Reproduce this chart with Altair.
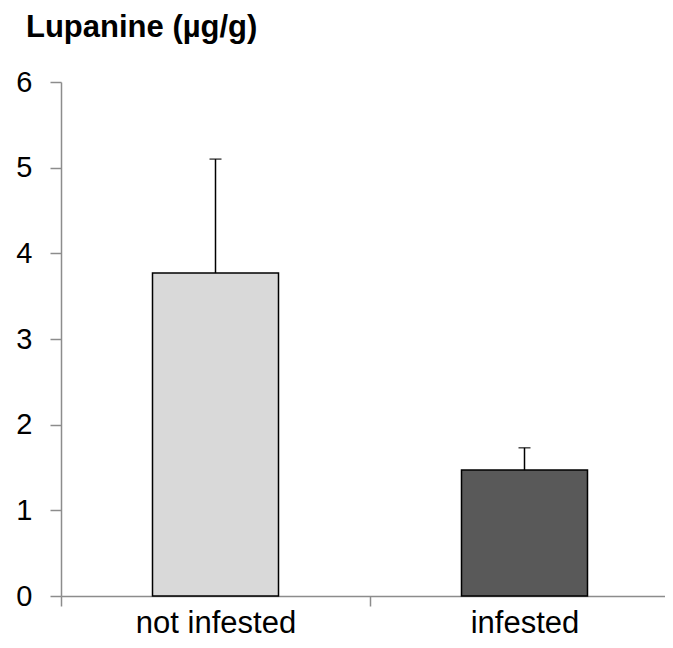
import altair as alt
import pandas as pd

categories = ["not infested", "infested"]
means = [3.77, 1.47]
errors = [1.33, 0.26]
colors = ["#d9d9d9", "#595959"]
title_text = "Lupanine (µg/g)"

df = pd.DataFrame({
    "group": categories,
    "mean": means,
    "upper": [m + e for m, e in zip(means, errors)],
    "color": colors,
})

FONT = "Liberation Sans"

x_enc = alt.X(
    "group:N",
    sort=categories,
    title=None,
    scale=alt.Scale(range=[0, 618], paddingInner=0, paddingOuter=0),
    axis=alt.Axis(
        labelAngle=0, labelFontSize=31, labelColor="black", labelFont=FONT,
        labelPadding=2, tickBand="extent", tickSize=10, tickColor="#8c8c8c",
        tickWidth=1.5, domainColor="#8c8c8c", domainWidth=1.5,
    ),
)
y_scale = alt.Scale(domain=[0, 6], nice=False)

bars = alt.Chart(df).mark_bar(size=126, stroke="black", strokeWidth=1.5).encode(
    x=x_enc,
    y=alt.Y(
        "mean:Q", scale=y_scale, title=None,
        axis=alt.Axis(
            values=[0, 1, 2, 3, 4, 5, 6], format="d", grid=False,
            labelFontSize=29, labelColor="black", labelFont=FONT,
            labelPadding=18, tickSize=11, tickColor="#8c8c8c", tickWidth=1.5,
            domainColor="#8c8c8c", domainWidth=1.5,
        ),
    ),
    fill=alt.Fill("color:N", scale=None),
)

rules = alt.Chart(df).mark_rule(color="black", strokeWidth=1.5).encode(
    x=alt.X("group:N", sort=categories),
    y=alt.Y("mean:Q", scale=y_scale),
    y2="upper:Q",
)

caps = alt.Chart(df).mark_tick(color="black", thickness=1.5, size=12).encode(
    x=alt.X("group:N", sort=categories),
    y=alt.Y("upper:Q", scale=y_scale),
)

title = alt.Chart(pd.DataFrame({"t": [title_text]})).mark_text(
    align="left", baseline="alphabetic", fontSize=31, fontWeight="bold",
    font=FONT, color="black",
).encode(x=alt.value(-35), y=alt.value(-45), text="t:N")

chart = alt.layer(bars, rules, caps, title).properties(
    width=604,
    height=514,
    autosize=alt.AutoSizeParams(type="none"),
    padding={"left": 53, "top": 74, "right": 0, "bottom": 43},
).configure_view(stroke=None)

chart.save("out.html", embed_options={"renderer": "svg", "actions": False})
